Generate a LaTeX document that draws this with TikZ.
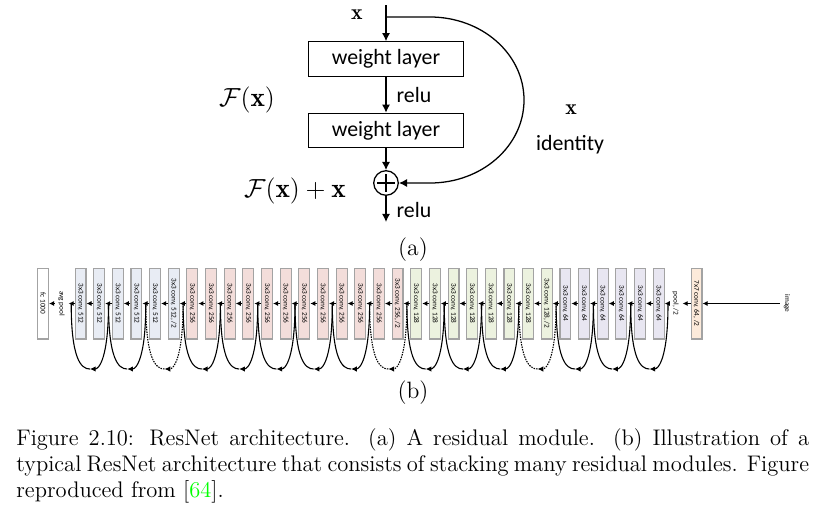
\documentclass[tikz,border=0pt]{standalone}
\usepackage{fontspec}
\usepackage{graphicx}
\usetikzlibrary{arrows.meta}
\newfontfamily\carlito{Carlito}

\definecolor{convFiveTwelve}{HTML}{E8ECF4}
\definecolor{convTwoFiftySix}{HTML}{F3DDDA}
\definecolor{convOneTwentyEight}{HTML}{ECF2DF}
\definecolor{convSixtyFour}{HTML}{E8E6F1}
\definecolor{convSeven}{HTML}{FCEADA}
\definecolor{blockGrey}{HTML}{A3A3A3}
\definecolor{citeGreen}{HTML}{00FF00}

\newcommand{\downText}[1]{\rotatebox{-90}{#1}}

\tikzset{
    weightLayer/.style={draw, line width=0.7pt, minimum width=85pt, minimum height=18.9pt, inner sep=0pt, font=\carlito\fontsize{12}{14}\selectfont},
    sumNode/.style={circle, draw, line width=0.7pt, minimum size=13.5pt, inner sep=0pt,
        path picture={\draw[line width=0.7pt] ([yshift=-2pt]path picture bounding box.north) -- ([yshift=2pt]path picture bounding box.south) ([xshift=2pt]path picture bounding box.west) -- ([xshift=-2pt]path picture bounding box.east);}},
    mainArrow/.style={line width=0.7pt, -{Latex[length=4.5pt,width=4.5pt]}},
    sansLabel/.style={font=\carlito\fontsize{12}{14}\selectfont, inner sep=1pt},
    mathLabel/.style={font=\fontsize{15}{18}\selectfont, inner sep=0pt},
    vecLabel/.style={font=\fontsize{12}{14}\selectfont, inner sep=0pt},
    partLabel/.style={font=\fontsize{13}{15}\selectfont, inner sep=0pt},
    convBlock/.style={draw=blockGrey, line width=0.6pt, minimum width=6pt, minimum height=39pt, inner sep=0pt, font=\carlito\fontsize{4}{4.5}\selectfont},
    sideLabel/.style={inner sep=2pt, font=\carlito\fontsize{4}{4.5}\selectfont},
    flowArrow/.style={line width=0.55pt, -{Latex[length=2.8pt,width=2.8pt]}},
    skipSolid/.style={line width=0.6pt},
    skipDashed/.style={skipSolid, dash pattern=on 0.8pt off 0.6pt},
    skipTip/.style={-{Latex[length=3.2pt,width=3pt]}}
}

\begin{document}
\begin{tikzpicture}[x=0.55pt,y=-0.55pt]
    \useasboundingbox (0,0) rectangle (831,512);

    \coordinate (xIn) at (386,5);
    \coordinate (xSplit) at (386,17);
    \node[weightLayer] (layerOne) at (386,59) {weight layer};
    \node[weightLayer] (layerTwo) at (386,130.5) {weight layer};
    \node[sumNode] (sum) at (386,183) {};
    \coordinate (xOut) at (386,222);

    \draw[mainArrow] (xIn) -- (layerOne);
    \draw[mainArrow] (layerOne) -- node[sansLabel, right=4.5pt] {relu} (layerTwo);
    \draw[mainArrow] (layerTwo) -- (sum);
    \draw[mainArrow] (sum) -- node[sansLabel, right=4.5pt, pos=0.55] {relu} (xOut);
    \draw[mainArrow] (xSplit) -- (430,17) .. controls (482,17) and (524,54) .. (524,100) .. controls (524,146) and (482,183) .. (430,183) -- (sum);

    \node[vecLabel] (xTop) at (357,15) {$\mathbf{x}$};
    \node[mathLabel] (fxLabel) at (247,100) {$\mathcal{F}(\mathbf{x})$};
    \node[mathLabel] (fxSum) at (295,191) {$\mathcal{F}(\mathbf{x})+\mathbf{x}$};
    \node[vecLabel] (xSkip) at (571,110) {$\mathbf{x}$};
    \node[sansLabel] (identity) at (570,145) {identity};
    \node[partLabel] (partA) at (413,250) {(a)};

    \node[convBlock, fill=white] (fc) at (43,303.5) {\downText{fc 1000}};
    \node[sideLabel] (avgPool) at (61.5,303.5) {\downText{avg pool}};
    \foreach \i in {0,...,4}
        \node[convBlock, fill=convFiveTwelve] (c\i) at ({80.5+18.65*\i},303.5) {\downText{3x3 conv, 512}};
    \node[convBlock, fill=convFiveTwelve] (c5) at ({80.5+18.65*5},303.5) {\downText{3x3 conv, 512, /2}};
    \foreach \i in {6,...,16}
        \node[convBlock, fill=convTwoFiftySix] (c\i) at ({80.5+18.65*\i},303.5) {\downText{3x3 conv, 256}};
    \node[convBlock, fill=convTwoFiftySix] (c17) at ({80.5+18.65*17},303.5) {\downText{3x3 conv, 256, /2}};
    \foreach \i in {18,...,24}
        \node[convBlock, fill=convOneTwentyEight] (c\i) at ({80.5+18.65*\i},303.5) {\downText{3x3 conv, 128}};
    \node[convBlock, fill=convOneTwentyEight] (c25) at ({80.5+18.65*25},303.5) {\downText{3x3 conv, 128, /2}};
    \foreach \i in {26,...,31}
        \node[convBlock, fill=convSixtyFour] (c\i) at ({80.5+18.65*\i},303.5) {\downText{3x3 conv, 64}};
    \node[sideLabel] (pool) at (675.5,303.5) {\downText{pool, /2}};
    \node[convBlock, fill=convSeven] (convSevenBlock) at (696.5,303.5) {\downText{7x7 conv, 64, /2}};
    \node[sideLabel] (image) at (787,303.5) {\downText{image}};

    \draw[flowArrow] (image) -- (convSevenBlock);
    \draw[flowArrow] (convSevenBlock) -- (pool);
    \draw[flowArrow] (pool) -- (c31);
    \foreach \i in {0,...,30}{
        \pgfmathtruncatemacro{\nxt}{\i+1}
        \draw[flowArrow] (c\nxt) -- (c\i);
    }
    \draw[flowArrow] (c0) -- (avgPool);
    \draw[flowArrow] (avgPool) -- (fc);

    \foreach \m in {0,...,16}
        \coordinate (j\m) at ({71.2+37.3*\m},303.5);
    \foreach \m in {0,...,15}
        \coordinate (b\m) at ({89.85+37.3*\m},369);
    \foreach \m in {0,1,3,4,5,6,7,9,10,11,13,14,15}{
        \pgfmathtruncatemacro{\nxt}{\m+1}
        \draw[skipSolid, skipTip] (j\nxt) .. controls +(0,55) and +(9,0) .. (b\m);
        \draw[skipSolid] (b\m) .. controls +(-9,0) and +(0,55) .. (j\m);
    }
    \foreach \m in {2,8,12}{
        \pgfmathtruncatemacro{\nxt}{\m+1}
        \draw[skipDashed, skipTip] (j\nxt) .. controls +(0,55) and +(9,0) .. (b\m);
        \draw[skipDashed] (b\m) .. controls +(-9,0) and +(0,55) .. (j\m);
    }
    \node[partLabel] (partB) at (413,393) {(b)};

    \node[anchor=north west, inner sep=0pt, text width=436pt, align=justify, font=\fontsize{12.4}{14.3}\selectfont] (caption) at (16,428) {Figure 2.10: ResNet architecture. (a) A residual module. (b) Illustration of a typical ResNet architecture that consists of stacking many residual modules. Figure reproduced from [\textcolor{citeGreen}{64}].};
\end{tikzpicture}
\end{document}
